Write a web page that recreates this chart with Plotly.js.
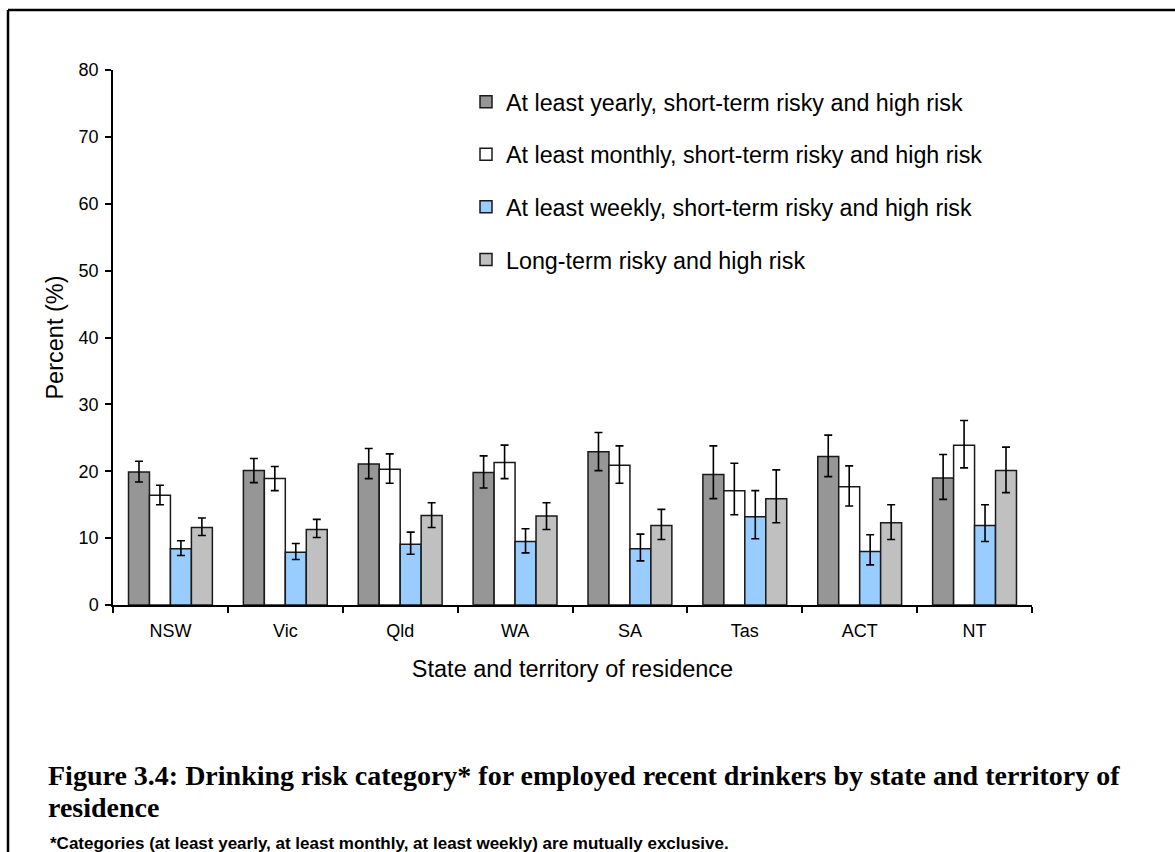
<!DOCTYPE html>
<html>
<head>
<meta charset="utf-8">
<script src="https://cdn.plot.ly/plotly-3.0.1.min.js"></script>
<style>html,body{margin:0;padding:0;background:#fff;}#chart{width:1175px;height:852px;}</style>
</head>
<body>
<div id="chart"></div>
<script>
const states = ["NSW","Vic","Qld","WA","SA","Tas","ACT","NT"];

const seriesNames = [
  "At least yearly, short-term risky and high risk",
  "At least monthly, short-term risky and high risk",
  "At least weekly, short-term risky and high risk",
  "Long-term risky and high risk"
];

const yearly      = [19.9, 20.1, 21.1, 19.8, 22.9, 19.5, 22.2, 19.0];
const yearlyHi    = [21.5, 21.9, 23.4, 22.3, 25.8, 23.8, 25.4, 22.5];
const yearlyLo    = [18.4, 18.3, 18.9, 17.5, 20.1, 15.9, 19.2, 15.8];

const monthly     = [16.4, 18.9, 20.3, 21.3, 20.9, 17.1, 17.7, 23.9];
const monthlyHi   = [17.9, 20.7, 22.6, 23.9, 23.8, 21.2, 20.8, 27.6];
const monthlyLo   = [15.0, 17.1, 18.2, 18.9, 18.2, 13.5, 14.8, 20.5];

const weekly      = [8.4, 7.9, 9.1, 9.5, 8.4, 13.2, 8.0, 11.9];
const weeklyHi    = [9.6, 9.2, 10.9, 11.4, 10.6, 17.1, 10.5, 15.0];
const weeklyLo    = [7.4, 6.8, 7.6, 7.8, 6.6, 9.9, 6.0, 9.5];

const longterm    = [11.6, 11.3, 13.4, 13.3, 11.9, 15.9, 12.3, 20.1];
const longtermHi  = [13.0, 12.8, 15.3, 15.3, 14.3, 20.2, 15.0, 23.6];
const longtermLo  = [10.4, 10.1, 11.6, 11.3, 9.8, 12.3, 9.8, 16.8];

const yTicks = [0,10,20,30,40,50,60,70,80];

const values = [yearly, monthly, weekly, longterm];
const his = [yearlyHi, monthlyHi, weeklyHi, longtermHi];
const los = [yearlyLo, monthlyLo, weeklyLo, longtermLo];
const colors = ["#969696", "#ffffff", "#99ccff", "#c0c0c0"];

const traces = values.map((v, i) => ({
  type: "bar",
  name: seriesNames[i],
  x: states,
  y: v,
  legendgroup: "g" + i,
  marker: {color: colors[i], line: {color: "#1a1a1a", width: 1.5}},
  error_y: {
    type: "data",
    symmetric: false,
    array: v.map((val, k) => +(his[i][k] - val).toFixed(2)),
    arrayminus: v.map((val, k) => +(val - los[i][k]).toFixed(2)),
    color: "#000",
    thickness: 1.6,
    width: 4
  },
  hoverinfo: "x+y"
}));

const L = 113, R = 1032, T = 70, B = 605, W = 1175, H = 852;
const px2x = p => (p - L) / (R - L);
const py2y = p => (B - p) / (B - T);

const layout = {
  width: W, height: H,
  margin: {l: L, r: W - R, t: T, b: H - B, pad: 0},
  paper_bgcolor: "#fff",
  plot_bgcolor: "#fff",
  font: {family: "Liberation Sans, Arial, sans-serif", color: "#000", size: 18},
  barmode: "group",
  bargap: 0.27,
  bargroupgap: 0,
  showlegend: true,
  legend: {
    x: px2x(466), y: py2y(80), xanchor: "left", yanchor: "top",
    font: {size: 23.3, family: "Liberation Sans, Arial, sans-serif"},
    bgcolor: "rgba(0,0,0,0)",
    tracegroupgap: 19.3,
    traceorder: "grouped",
    itemclick: false
  },
  xaxis: {
    type: "category",
    showline: true, linecolor: "#000", linewidth: 1.5,
    ticks: "outside", ticklen: 6, tickcolor: "#000", tickwidth: 1.5,
    tickson: "boundaries",
    ticklabelstandoff: 9,
    showgrid: false, zeroline: false,
    tickfont: {size: 18},
    title: {text: "State and territory of residence", font: {size: 23.5}, standoff: 20}
  },
  yaxis: {
    range: [0, 80],
    tickvals: yTicks,
    ticktext: yTicks.map(String),
    showline: true, linecolor: "#000", linewidth: 1.5,
    ticks: "outside", ticklen: 6, tickcolor: "#000", tickwidth: 1.5,
    ticklabelstandoff: 3,
    showgrid: false, zeroline: false,
    tickfont: {size: 18},
    title: {text: "Percent (%)", font: {size: 23.5}, standoff: 8}
  },
  shapes: [
    {type: "line", xref: "paper", yref: "paper", x0: px2x(8), x1: px2x(1180), y0: py2y(10), y1: py2y(10), line: {color: "#000", width: 2.5}},
    {type: "line", xref: "paper", yref: "paper", x0: px2x(8), x1: px2x(8), y0: py2y(10), y1: py2y(860), line: {color: "#000", width: 2.5}}
  ],
  annotations: [
    {xref: "paper", yref: "paper", x: px2x(46), y: py2y(775), xanchor: "left", yanchor: "middle", showarrow: false,
     text: "<b>Figure 3.4: Drinking risk category* for employed recent drinkers by state and territory of</b>",
     font: {family: "Liberation Serif, Times New Roman, serif", size: 28, color: "#000"}},
    {xref: "paper", yref: "paper", x: px2x(46), y: py2y(807), xanchor: "left", yanchor: "middle", showarrow: false,
     text: "<b>residence</b>",
     font: {family: "Liberation Serif, Times New Roman, serif", size: 28, color: "#000"}},
    {xref: "paper", yref: "paper", x: px2x(48), y: py2y(843), xanchor: "left", yanchor: "middle", showarrow: false,
     text: "<b>*Categories (at least yearly, at least monthly, at least weekly) are mutually exclusive.</b>",
     font: {family: "Liberation Sans, Arial, sans-serif", size: 17, color: "#000"}}
  ]
};

Plotly.newPlot("chart", traces, layout, {displayModeBar: false, staticPlot: false});
</script>
</body>
</html>
